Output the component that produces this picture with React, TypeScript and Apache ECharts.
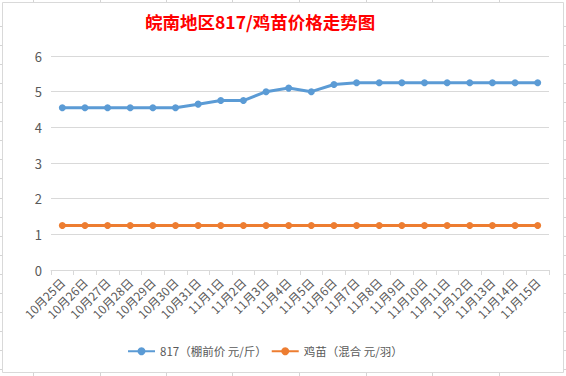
import React, { useEffect, useRef } from "react";
import * as echarts from "echarts";

const categories = [
  "10月25日", "10月26日", "10月27日", "10月28日", "10月29日", "10月30日", "10月31日",
  "11月1日", "11月2日", "11月3日", "11月4日", "11月5日", "11月6日", "11月7日", "11月8日",
  "11月9日", "11月10日", "11月11日", "11月12日", "11月13日", "11月14日", "11月15日",
];
const seriesNames = ["817（棚前价 元/斤）", "鸡苗（混合 元/羽）"];
const price817 = [
  4.55, 4.55, 4.55, 4.55, 4.55, 4.55, 4.65, 4.75, 4.75, 5.0, 5.1, 5.0, 5.2,
  5.25, 5.25, 5.25, 5.25, 5.25, 5.25, 5.25, 5.25, 5.25,
];
const chickPrice = [
  1.25, 1.25, 1.25, 1.25, 1.25, 1.25, 1.25, 1.25, 1.25, 1.25, 1.25, 1.25, 1.25,
  1.25, 1.25, 1.25, 1.25, 1.25, 1.25, 1.25, 1.25, 1.25,
];
const titleText = "皖南地区817/鸡苗价格走势图";

export default function App() {
  const ref = useRef<HTMLDivElement>(null);
  useEffect(() => {
    document.body.style.margin = "0";
    const chart = echarts.init(ref.current!, null, { renderer: "svg" });
    const font = "'Noto Sans CJK SC', 'Noto Sans', sans-serif";
    const labelColor = "#595959";
    const deco: any[] = [];
    const xs = [33, 100, 166, 232, 299, 366, 432, 499];
    xs.forEach((x) => {
      deco.push({ type: "line", shape: { x1: x + 0.5, y1: 0, x2: x + 0.5, y2: 2 }, style: { stroke: "#d4d4d4", lineWidth: 1 }, silent: true });
      deco.push({ type: "line", shape: { x1: x + 0.5, y1: 373, x2: x + 0.5, y2: 376 }, style: { stroke: "#d4d4d4", lineWidth: 1 }, silent: true });
    });
    for (let k = 0; k < 19; k++) {
      const y = Math.round(26 + k * 19.06) + 0.5;
      deco.push({ type: "line", shape: { x1: 0, y1: y, x2: 2, y2: y }, style: { stroke: "#d4d4d4", lineWidth: 1 }, silent: true });
      deco.push({ type: "line", shape: { x1: 564, y1: y, x2: 566, y2: y }, style: { stroke: "#d4d4d4", lineWidth: 1 }, silent: true });
    }
    deco.push({
      type: "rect",
      shape: { x: 2.5, y: 2.5, width: 561, height: 370 },
      style: { fill: "#ffffff", stroke: "#d9d9d9", lineWidth: 1 },
      z: -10,
      silent: true,
    });
    chart.setOption({
      animation: false,
      backgroundColor: "#ffffff",
      graphic: { elements: deco },
      title: {
        text: titleText,
        left: 140,
        top: 8,
        textStyle: { color: "#ff0000", fontSize: 17.5, fontWeight: "bold", fontFamily: font },
      },
      grid: { left: 51, right: 17, top: 56, bottom: 106, containLabel: false },
      legend: {
        bottom: 14,
        left: 122,
        itemWidth: 27,
        itemHeight: 10,
        itemGap: 4,
        textStyle: { color: labelColor, fontSize: 11.5, fontFamily: font },
        data: seriesNames,
      },
      xAxis: {
        type: "category",
        data: categories,
        boundaryGap: true,
        axisLine: { lineStyle: { color: "#d9d9d9", width: 1 } },
        axisTick: { show: true, lineStyle: { color: "#d9d9d9" }, length: 5 },
        axisLabel: { rotate: 45, color: labelColor, fontSize: 12, fontFamily: font, interval: 0, margin: 10 },
      },
      yAxis: {
        type: "value",
        min: 0,
        max: 6,
        interval: 1,
        axisLine: { show: false },
        axisTick: { show: false },
        splitLine: { lineStyle: { color: "#d9d9d9", width: 1 } },
        axisLabel: { color: labelColor, fontSize: 13, fontFamily: font, margin: 9 },
      },
      series: [
        {
          name: seriesNames[0],
          type: "line",
          data: price817,
          symbol: "circle",
          symbolSize: 7,
          itemStyle: { color: "#5B9BD5" },
          lineStyle: { color: "#5B9BD5", width: 3 },
        },
        {
          name: seriesNames[1],
          type: "line",
          data: chickPrice,
          symbol: "circle",
          symbolSize: 7,
          itemStyle: { color: "#ED7D31" },
          lineStyle: { color: "#ED7D31", width: 3 },
        },
      ],
    });
    return () => chart.dispose();
  }, []);
  return <div ref={ref} style={{ width: 566, height: 376 }} />;
}
